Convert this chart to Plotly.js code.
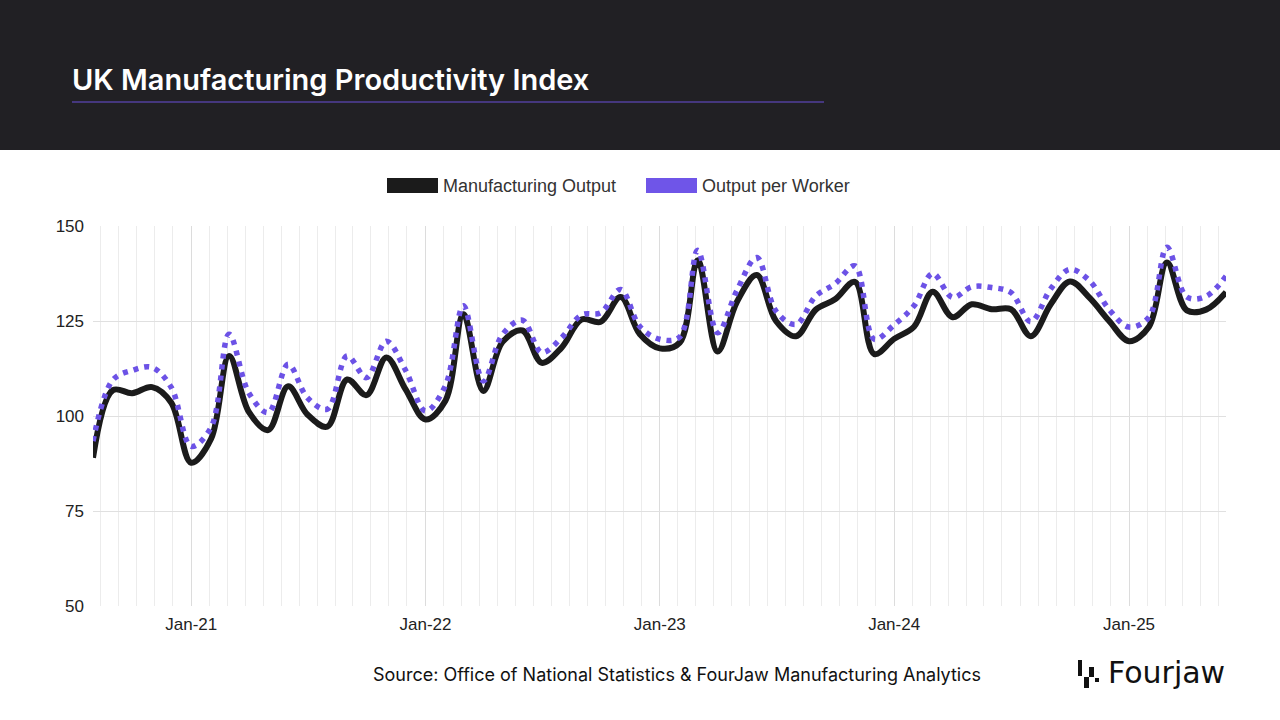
<!DOCTYPE html>
<html>
<head>
<meta charset="utf-8">
<script src="https://cdn.plot.ly/plotly-3.0.1.min.js"></script>
<style>
html,body{margin:0;padding:0;background:#fff;}
#chart{width:1280px;height:720px;}
</style>
</head>
<body>
<div id="chart"></div>
<script>
// ---- Data ----
const months = [
  '2020-08-01','2020-09-01','2020-10-01','2020-11-01','2020-12-01',
  '2021-01-01','2021-02-01','2021-03-01','2021-04-01','2021-05-01','2021-06-01',
  '2021-07-01','2021-08-01','2021-09-01','2021-10-01','2021-11-01','2021-12-01',
  '2022-01-01','2022-02-01','2022-03-01','2022-04-01','2022-05-01','2022-06-01',
  '2022-07-01','2022-08-01','2022-09-01','2022-10-01','2022-11-01','2022-12-01',
  '2023-01-01','2023-02-01','2023-03-01','2023-04-01','2023-05-01','2023-06-01',
  '2023-07-01','2023-08-01','2023-09-01','2023-10-01','2023-11-01','2023-12-01',
  '2024-01-01','2024-02-01','2024-03-01','2024-04-01','2024-05-01','2024-06-01',
  '2024-07-01','2024-08-01','2024-09-01','2024-10-01','2024-11-01','2024-12-01',
  '2025-01-01','2025-02-01','2025-03-01','2025-04-01','2025-05-01','2025-06-01'
];

const manufacturingOutput = [
  89.0, 106.8, 106.0, 107.6, 103.5,
  87.7, 94.0, 115.8, 101.0, 96.3, 107.8, 100.4, 97.2, 109.6, 105.5, 115.4, 107.0,
  99.1, 104.0, 126.8, 106.6, 119.5, 122.5, 114.0, 118.0, 125.4, 124.8, 131.3, 121.5,
  117.8, 119.3, 141.0, 117.0, 130.0, 137.1, 125.0, 121.0, 128.0, 130.7, 135.3, 116.3,
  120.3, 123.5, 132.7, 126.0, 129.4, 128.1, 128.1, 121.0, 129.4, 135.4, 131.0, 125.0,
  119.7, 123.5, 140.4, 127.8, 128.0, 132.6
];

const outputPerWorker = [
  93.4, 109.5, 112.0, 112.8, 107.5,
  92.0, 97.0, 121.5, 106.0, 100.9, 113.6, 104.8, 101.8, 115.8, 110.1, 119.7, 112.0,
  101.3, 108.0, 129.0, 109.2, 121.5, 125.2, 116.7, 120.6, 126.6, 127.2, 133.3, 123.5,
  120.2, 120.8, 143.6, 121.9, 133.0, 141.7, 127.6, 124.1, 131.6, 134.8, 139.5, 120.2,
  124.0, 129.0, 137.5, 131.2, 134.0, 133.8, 132.5, 124.8, 133.5, 138.6, 135.5, 128.0,
  123.4, 126.0, 144.4, 131.3, 131.5, 136.8
];

const yearTicks  = ['2021-01-01','2022-01-01','2023-01-01','2024-01-01','2025-01-01'];
const yearLabels = ['Jan-21','Jan-22','Jan-23','Jan-24','Jan-25'];
const yTicks = [50, 75, 100, 125, 150];
const seriesNames = ['Manufacturing Output', 'Output per Worker'];
const chartTitle = 'UK Manufacturing Productivity Index';
const sourceText = 'Source: Office of National Statistics & FourJaw Manufacturing Analytics';
const brandName = 'Fourjaw';

// ---- Styling / geometry ----
const COL_BLACK = '#1b1b1b';
const COL_PURPLE = '#6c52e6';
const L = 93, R = 1226, T = 226, B = 606;
const px = x => (x - L) / (R - L);
const py = y => (B - y) / (B - T);
const X_START = '2020-08-01', X_END = '2025-06-01';

// minor vertical gridlines: 13 evenly spaced lines per year, aligned to each Jan 1
const minorGrid = [];
(function () {
  const lo = Date.parse(X_START), hi = Date.parse(X_END);
  for (let yr = 2020; yr <= 2025; yr++) {
    const a = Date.UTC(yr, 0, 1), b = Date.UTC(yr + 1, 0, 1);
    for (let i = 1; i < 13; i++) {
      const t = a + (b - a) * i / 13;
      if (t > lo && t < hi) minorGrid.push(new Date(t).toISOString().slice(0, 10));
    }
  }
})();

const rect = (x0, y0, x1, y1, color) => ({
  type: 'rect', xref: 'paper', yref: 'paper',
  x0: px(x0), x1: px(x1), y0: py(y0), y1: py(y1),
  fillcolor: color, line: {width: 0}, layer: 'above'
});

const traces = [
  {
    x: months, y: manufacturingOutput, name: seriesNames[0],
    type: 'scatter', mode: 'lines',
    line: {color: COL_BLACK, width: 6, shape: 'spline', smoothing: 1},
    cliponaxis: false
  },
  {
    x: months, y: outputPerWorker, name: seriesNames[1],
    type: 'scatter', mode: 'lines',
    line: {color: COL_PURPLE, width: 5.5, shape: 'spline', smoothing: 1, dash: '5px,6px'},
    cliponaxis: false
  }
];

const tickFont = {family: '"Liberation Sans", Arial, sans-serif', size: 17, color: '#222'};

const layout = {
  width: 1280, height: 720,
  margin: {l: L, r: 1280 - R, t: T, b: 720 - B, pad: 0},
  paper_bgcolor: '#ffffff',
  plot_bgcolor: '#ffffff',
  showlegend: false,
  title: {
    text: chartTitle,
    xref: 'container', yref: 'container',
    x: 72 / 1280, xanchor: 'left',
    y: 1 - 80 / 720, yanchor: 'middle',
    font: {family: 'Inter, "Noto Sans", sans-serif', size: 29, color: '#ffffff', weight: 600}
  },
  xaxis: {
    type: 'date',
    range: [X_START, X_END],
    tickmode: 'array', tickvals: yearTicks, ticktext: yearLabels,
    showgrid: true, gridcolor: '#dcdcdc', gridwidth: 1,
    ticks: '', showline: false, zeroline: false,
    tickfont: tickFont, ticklabelstandoff: 6,
    minor: {tickmode: 'array', tickvals: minorGrid,
            showgrid: true, gridcolor: '#ececec', gridwidth: 1, ticks: ''},
    fixedrange: true
  },
  yaxis: {
    range: [50, 150],
    tickmode: 'array', tickvals: yTicks,
    showgrid: true, gridcolor: '#e0e0e0', gridwidth: 1,
    ticks: '', showline: false, zeroline: false,
    tickfont: tickFont, ticklabelstandoff: 8,
    fixedrange: true
  },
  shapes: [
    // dark header band
    {type: 'rect', xref: 'paper', yref: 'paper', x0: px(0), x1: px(1280), y0: py(150), y1: py(0),
     fillcolor: '#212024', line: {width: 0}, layer: 'below'},
    // purple underline under the title
    {type: 'line', xref: 'paper', yref: 'paper', x0: px(72), x1: px(824), y0: py(102), y1: py(102),
     line: {color: '#6a4fd8', width: 1.2}, layer: 'above'},
    // legend swatches
    rect(387, 178, 438, 193, COL_BLACK),
    rect(646, 178, 697, 193, '#6f55e8'),
    // logo glyph
    rect(1078, 660, 1082, 676, '#111111'),
    rect(1084, 677, 1089, 688, '#111111'),
    rect(1089, 667, 1094, 677, '#111111'),
    rect(1095, 678, 1099, 682, '#111111')
  ],
  annotations: [
    {xref: 'paper', yref: 'paper', x: px(441), y: py(186), xanchor: 'left', yanchor: 'middle',
     text: seriesNames[0], showarrow: false,
     font: {family: '"Liberation Sans", Arial, sans-serif', size: 18, color: '#333'}},
    {xref: 'paper', yref: 'paper', x: px(700), y: py(186), xanchor: 'left', yanchor: 'middle',
     text: seriesNames[1], showarrow: false,
     font: {family: '"Liberation Sans", Arial, sans-serif', size: 18, color: '#333'}},
    {xref: 'paper', yref: 'paper', x: px(677), y: py(674), xanchor: 'center', yanchor: 'middle',
     text: sourceText, showarrow: false,
     font: {family: 'Inter, "Noto Sans", sans-serif', size: 18, color: '#111'}},
    {xref: 'paper', yref: 'paper', x: px(1106), y: py(672), xanchor: 'left', yanchor: 'middle',
     text: brandName, showarrow: false,
     font: {family: '"DejaVu Sans", sans-serif', size: 30, color: '#111'}}
  ]
};

Plotly.newPlot('chart', traces, layout, {displayModeBar: false, staticPlot: true});
</script>
</body>
</html>
